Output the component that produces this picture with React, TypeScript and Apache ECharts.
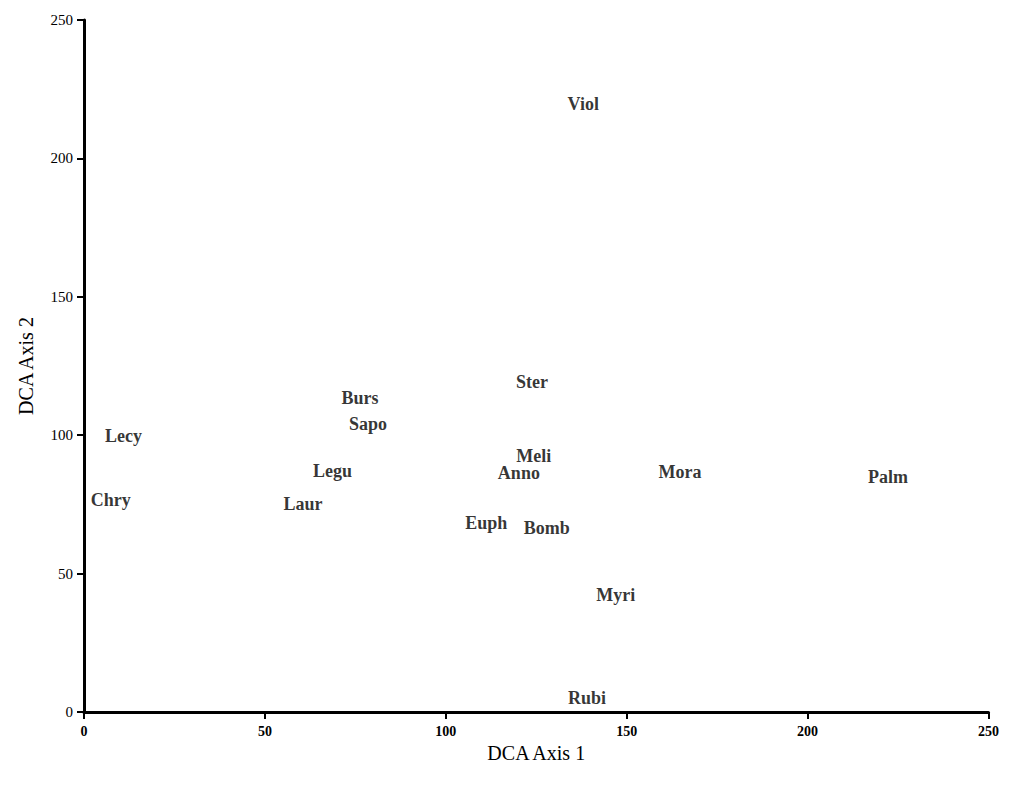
import React, { useEffect, useRef } from "react";
import * as echarts from "echarts";

const families = ["Viol", "Ster", "Burs", "Sapo", "Lecy", "Legu", "Meli", "Anno", "Mora", "Palm", "Chry", "Laur", "Euph", "Bomb", "Myri", "Rubi"];
const axis1 = [138, 123.8, 76.3, 78.5, 10.9, 68.7, 124.3, 120.2, 164.7, 222.2, 7.4, 60.5, 111.2, 127.9, 147, 139];
const axis2 = [219.6, 119.2, 113.4, 104, 99.7, 87, 92.5, 86.3, 86.7, 84.9, 76.6, 75.1, 68.3, 66.5, 42.3, 5.1];
const xTicks = [0, 50, 100, 150, 200, 250];

const serif = "'Liberation Serif', 'Times New Roman', serif";

export default function App() {
  const ref = useRef<HTMLDivElement>(null);
  useEffect(() => {
    if (!ref.current) return;
    const chart = echarts.init(ref.current, null, { renderer: "svg" });
    chart.setOption({
      animation: false,
      backgroundColor: "#fff",
      grid: { left: 73, right: 4, top: 12, bottom: 65 },
      xAxis: {
        type: "value",
        min: 0,
        max: 250,
        interval: 50,
        name: "DCA Axis 1",
        nameLocation: "middle",
        nameGap: 29,
        nameTextStyle: { fontFamily: serif, fontSize: 20, color: "#000" },
        axisLine: { show: true, onZero: false, lineStyle: { color: "#000", width: 3 } },
        axisTick: { show: true, length: 7, lineStyle: { color: "#000", width: 2 } },
        axisLabel: {
          margin: 12,
          fontFamily: serif,
          fontSize: 14,
          fontWeight: "bold",
          color: "#000",
          formatter: (v: number) => (xTicks.includes(v) ? String(v) : ""),
        },
        splitLine: { show: false },
      },
      yAxis: {
        type: "value",
        min: 0,
        max: 250,
        interval: 50,
        name: "DCA Axis 2",
        nameLocation: "middle",
        nameGap: 48,
        nameTextStyle: { fontFamily: serif, fontSize: 20, color: "#000" },
        axisLine: { show: true, onZero: false, lineStyle: { color: "#000", width: 3 } },
        axisTick: { show: true, length: 7, lineStyle: { color: "#000", width: 2 } },
        axisLabel: { margin: 11, fontFamily: serif, fontSize: 15, color: "#000" },
        splitLine: { show: false },
      },
      series: [
        {
          type: "scatter",
          symbolSize: 1,
          itemStyle: { color: "rgba(0,0,0,0)" },
          data: families.map((n, i) => ({ name: n, value: [axis1[i], axis2[i]] })),
          label: {
            show: true,
            position: "inside",
            formatter: (p: any) => p.name,
            fontFamily: serif,
            fontSize: 18,
            fontWeight: "bold",
            color: "#000",
            textBorderWidth: 0,
          },
        },
      ],
    });
    return () => chart.dispose();
  }, []);
  return <div ref={ref} style={{ width: 994, height: 769 }} />;
}
